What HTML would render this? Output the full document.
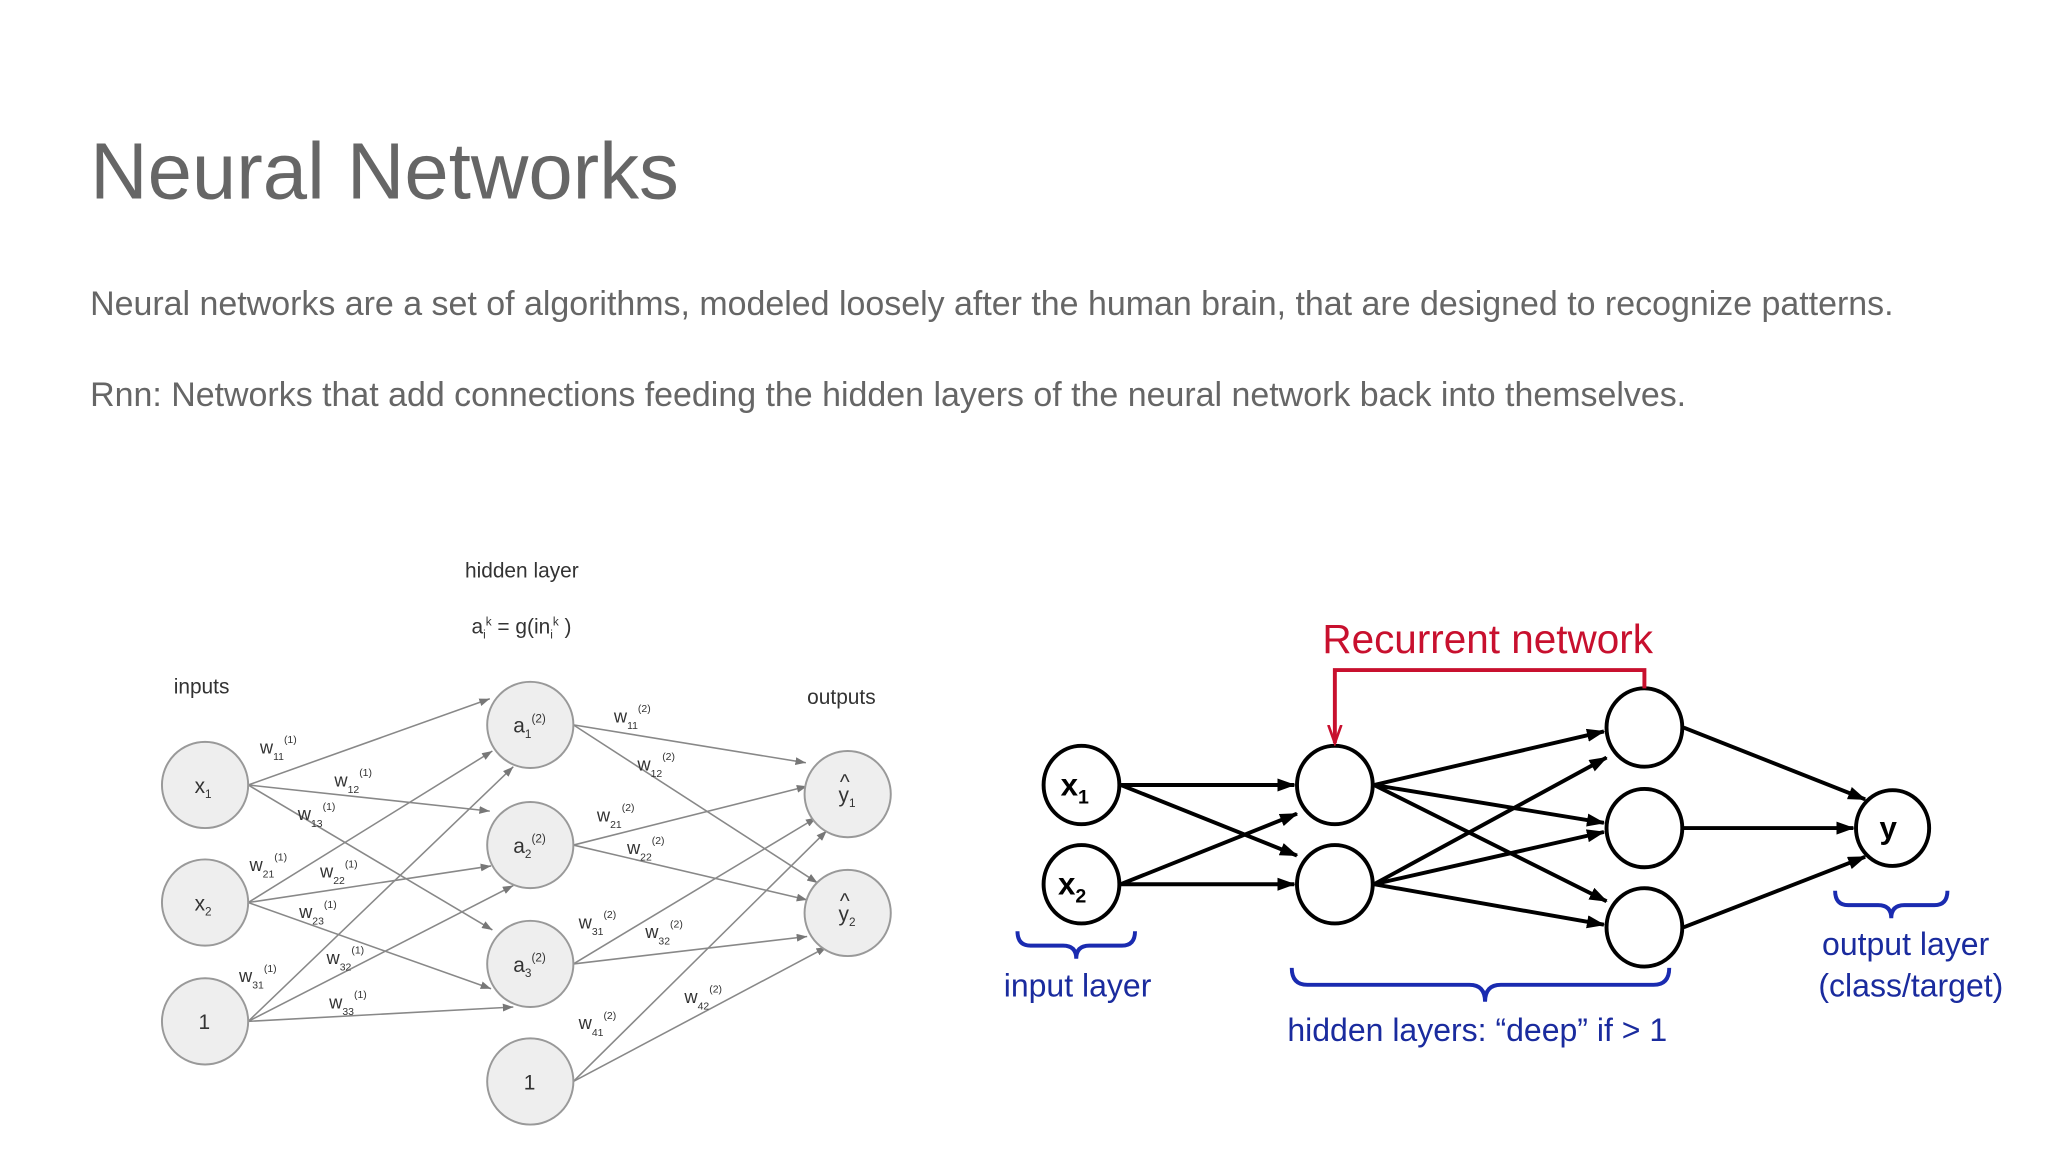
<!DOCTYPE html>
<html><head><meta charset="utf-8"><style>
html,body{margin:0;padding:0;background:#fff;}
svg{display:block;}
text{font-family:"Liberation Sans",sans-serif;}
</style></head><body>
<svg width="2048" height="1152" viewBox="0 0 1568 882" xmlns="http://www.w3.org/2000/svg">
<defs>
<marker id="ga" markerWidth="8" markerHeight="6" refX="8" refY="3" orient="auto" markerUnits="userSpaceOnUse"><path d="M0,0 L8,3 L0,6z" fill="#777"/></marker>
<marker id="ba" markerWidth="14" markerHeight="10" refX="13" refY="5" orient="auto" markerUnits="userSpaceOnUse"><path d="M0,0 L14,5 L0,10z" fill="#000"/></marker>
<marker id="ra" markerWidth="16" markerHeight="12" refX="14" refY="6" orient="auto" markerUnits="userSpaceOnUse"><path d="M0,1 L14,6 L0,11" fill="none" stroke="#c8102e" stroke-width="2"/></marker>
</defs>
<text x="69" y="152" font-size="61" fill="#666">Neural Networks</text>
<text x="69" y="241" font-size="26" fill="#666">Neural networks are a set of algorithms, modeled loosely after the human brain, that are designed to recognize patterns.</text>
<text x="69" y="311" font-size="26" fill="#666">Rnn: Networks that add connections feeding the hidden layers of the neural network back into themselves.</text>

<!-- Left diagram -->
<g stroke="#888" stroke-width="1.2" marker-end="url(#ga)">
<line x1="190" y1="601" x2="375" y2="535"/>
<line x1="190" y1="601" x2="375" y2="621"/>
<line x1="190" y1="601" x2="377" y2="712"/>
<line x1="190" y1="691" x2="377" y2="575"/>
<line x1="190" y1="691" x2="376" y2="663"/>
<line x1="190" y1="691" x2="376" y2="757"/>
<line x1="190" y1="782" x2="393" y2="587"/>
<line x1="190" y1="782" x2="393" y2="678"/>
<line x1="190" y1="782" x2="393" y2="771"/>
<line x1="439" y1="555" x2="617" y2="584"/>
<line x1="439" y1="555" x2="626" y2="676"/>
<line x1="439" y1="647" x2="618" y2="602"/>
<line x1="439" y1="647" x2="618" y2="689"/>
<line x1="439" y1="738" x2="625" y2="626"/>
<line x1="439" y1="738" x2="618" y2="717"/>
<line x1="439" y1="828" x2="633" y2="636"/>
<line x1="439" y1="828" x2="633" y2="725"/>
</g>
<g fill="#eee" stroke="#999" stroke-width="1.5">
<circle cx="157" cy="601" r="33"/><circle cx="157" cy="691" r="33"/><circle cx="157" cy="782" r="33"/>
<circle cx="406" cy="555" r="33"/><circle cx="406" cy="647" r="33"/><circle cx="406" cy="738" r="33"/><circle cx="406" cy="828" r="33"/>
<circle cx="649" cy="608" r="33"/><circle cx="649" cy="699" r="33"/>
</g>
<g font-size="16" fill="#333">
<text x="356" y="442">hidden layer</text>
<text x="361" y="485">a<tspan font-size="9" dy="4">i</tspan><tspan font-size="9" dy="-10">k</tspan><tspan dy="6"> = g(in</tspan><tspan font-size="9" dy="4">i</tspan><tspan font-size="9" dy="-10">k</tspan><tspan dy="6"> )</tspan></text>
<text x="133" y="531">inputs</text>
<text x="618" y="539">outputs</text>
<text x="149" y="607">x<tspan font-size="9" dy="4">1</tspan></text>
<text x="149" y="697">x<tspan font-size="9" dy="4">2</tspan></text>
<text x="152" y="788">1</text>
<text x="393" y="561">a<tspan font-size="9" dy="4">1</tspan><tspan font-size="9" dy="-12">(2)</tspan></text>
<text x="393" y="653">a<tspan font-size="9" dy="4">2</tspan><tspan font-size="9" dy="-12">(2)</tspan></text>
<text x="393" y="744">a<tspan font-size="9" dy="4">3</tspan><tspan font-size="9" dy="-12">(2)</tspan></text>
<text x="401" y="834">1</text>
<text x="642" y="614">y<tspan font-size="9" dy="4">1</tspan></text>
<text x="643" y="604">^</text>
<text x="642" y="705">y<tspan font-size="9" dy="4">2</tspan></text>
<text x="643" y="695">^</text>
</g>
<g font-size="14" fill="#333">
<text x="199" y="577">w<tspan font-size="8" dy="5">11</tspan><tspan font-size="8" dy="-13">(1)</tspan></text>
<text x="256" y="602">w<tspan font-size="8" dy="5">12</tspan><tspan font-size="8" dy="-13">(1)</tspan></text>
<text x="228" y="628">w<tspan font-size="8" dy="5">13</tspan><tspan font-size="8" dy="-13">(1)</tspan></text>
<text x="191" y="667">w<tspan font-size="8" dy="5">21</tspan><tspan font-size="8" dy="-13">(1)</tspan></text>
<text x="245" y="672">w<tspan font-size="8" dy="5">22</tspan><tspan font-size="8" dy="-13">(1)</tspan></text>
<text x="229" y="703">w<tspan font-size="8" dy="5">23</tspan><tspan font-size="8" dy="-13">(1)</tspan></text>
<text x="250" y="738">w<tspan font-size="8" dy="5">32</tspan><tspan font-size="8" dy="-13">(1)</tspan></text>
<text x="183" y="752">w<tspan font-size="8" dy="5">31</tspan><tspan font-size="8" dy="-13">(1)</tspan></text>
<text x="252" y="772">w<tspan font-size="8" dy="5">33</tspan><tspan font-size="8" dy="-13">(1)</tspan></text>
<text x="470" y="553">w<tspan font-size="8" dy="5">11</tspan><tspan font-size="8" dy="-13">(2)</tspan></text>
<text x="488" y="590">w<tspan font-size="8" dy="5">12</tspan><tspan font-size="8" dy="-13">(2)</tspan></text>
<text x="457" y="629">w<tspan font-size="8" dy="5">21</tspan><tspan font-size="8" dy="-13">(2)</tspan></text>
<text x="480" y="654">w<tspan font-size="8" dy="5">22</tspan><tspan font-size="8" dy="-13">(2)</tspan></text>
<text x="443" y="711">w<tspan font-size="8" dy="5">31</tspan><tspan font-size="8" dy="-13">(2)</tspan></text>
<text x="494" y="718">w<tspan font-size="8" dy="5">32</tspan><tspan font-size="8" dy="-13">(2)</tspan></text>
<text x="443" y="788">w<tspan font-size="8" dy="5">41</tspan><tspan font-size="8" dy="-13">(2)</tspan></text>
<text x="524" y="768">w<tspan font-size="8" dy="5">42</tspan><tspan font-size="8" dy="-13">(2)</tspan></text>
</g>

<!-- Right diagram -->
<g stroke="#000" stroke-width="3" marker-end="url(#ba)">
<line x1="858" y1="601" x2="991" y2="601"/>
<line x1="858" y1="601" x2="993" y2="655"/>
<line x1="858" y1="677" x2="993" y2="623"/>
<line x1="858" y1="677" x2="991" y2="677"/>
<line x1="1052" y1="601" x2="1228" y2="560"/>
<line x1="1052" y1="601" x2="1228" y2="630"/>
<line x1="1052" y1="601" x2="1230" y2="690"/>
<line x1="1052" y1="677" x2="1230" y2="580"/>
<line x1="1052" y1="677" x2="1228" y2="637"/>
<line x1="1052" y1="677" x2="1228" y2="708"/>
<line x1="1289" y1="557" x2="1428" y2="612"/>
<line x1="1289" y1="634" x2="1419" y2="634"/>
<line x1="1289" y1="710" x2="1428" y2="656"/>
</g>
<g fill="#fff" stroke="#000" stroke-width="3">
<ellipse cx="828" cy="601" rx="29" ry="30"/><ellipse cx="828" cy="677" rx="29" ry="30"/>
<ellipse cx="1022" cy="601" rx="29" ry="30"/><ellipse cx="1022" cy="677" rx="29" ry="30"/>
<ellipse cx="1259" cy="557" rx="29" ry="30"/><ellipse cx="1259" cy="634" rx="29" ry="30"/><ellipse cx="1259" cy="710" rx="29" ry="30"/>
<ellipse cx="1449" cy="634" rx="28" ry="29"/>
</g>
<polyline points="1259,527 1259,513 1022,513 1022,569" fill="none" stroke="#c8102e" stroke-width="3" marker-end="url(#ra)"/>
<text x="1139" y="500" font-size="31" fill="#c8102e" text-anchor="middle">Recurrent network</text>
<g font-size="24" font-weight="bold" fill="#000">
<text x="812" y="609">x<tspan font-size="15" dy="6">1</tspan></text>
<text x="810" y="685">x<tspan font-size="15" dy="6">2</tspan></text>
<text x="1439" y="642">y</text>
</g>
<g fill="none" stroke="#1a2bb0" stroke-width="3">
<path d="M779,713 q0,11 10,11 h25 q10,0 10,10 q0,-10 10,-10 h25 q10,0 10,-11"/>
<path d="M989,741 q0,13 12,13 h124 q12,0 12,13 q0,-13 12,-13 h117 q12,0 12,-13"/>
<path d="M1405,682 q0,11 10,11 h23 q10,0 10,10 q0,-10 10,-10 h23 q10,0 10,-11"/>
</g>
<g font-size="24.5" fill="#1a2b9e">
<text x="825" y="763" text-anchor="middle">input layer</text>
<text x="1131" y="797" text-anchor="middle">hidden layers: “deep” if &gt; 1</text>
<text x="1459" y="731" text-anchor="middle">output layer</text>
<text x="1463" y="763" text-anchor="middle">(class/target)</text>
</g>
</svg>
</body></html>
